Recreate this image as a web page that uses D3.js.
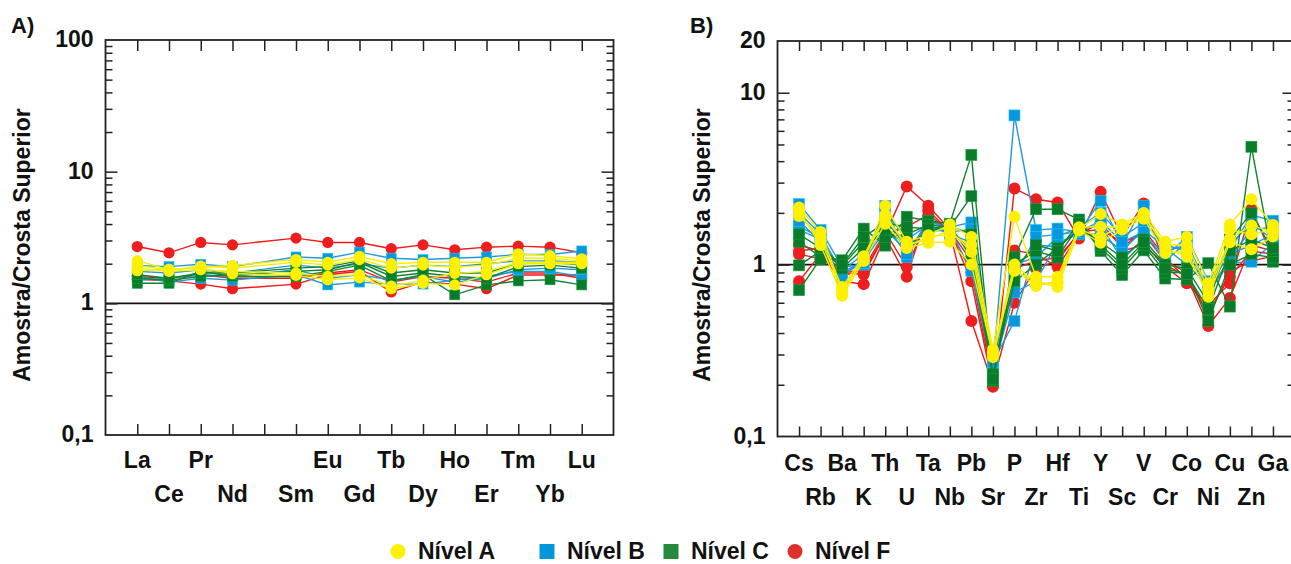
<!DOCTYPE html>
<html>
<head>
<meta charset="utf-8">
<script src="https://cdn.jsdelivr.net/npm/d3@7"></script>
<style>
  html, body { margin: 0; padding: 0; background: #fff; }
  svg { display: block; font-family: "Liberation Sans", Arial, sans-serif; font-weight: bold; }
</style>
</head>
<body>
<script>
// ---- Panel A: rare earth elements (Pm slot kept on the axis, not analysed) ----
const reeSlots = ["La","Ce","Pr","Nd","Pm","Sm","Eu","Gd","Tb","Dy","Ho","Er","Tm","Yb","Lu"];
const reeElements = ["La","Ce","Pr","Nd","Sm","Eu","Gd","Tb","Dy","Ho","Er","Tm","Yb","Lu"];

const reeNivelA = [
  [2.11, 1.80, 1.88, 1.94, 2.15, 2.05, 2.27, 2.00, 2.05, 2.05, 2.05, 2.38, 2.30, 2.18],
  [1.95, 1.78, 1.92, 1.85, 2.05, 1.95, 2.15, 1.85, 1.95, 1.88, 1.95, 2.20, 2.20, 2.10],
  [1.77, 1.82, 1.85, 1.68, 1.63, 1.51, 1.56, 1.29, 1.42, 1.38, 1.65, 2.00, 2.00, 2.00],
  [1.85, 1.75, 1.80, 1.75, 1.70, 1.60, 1.65, 1.35, 1.50, 1.69, 1.75, 2.05, 2.05, 2.05]
];
const reeNivelB = [
  [1.94, 1.90, 1.98, 1.90, 2.25, 2.20, 2.45, 2.20, 2.15, 2.20, 2.25, 2.35, 2.35, 2.50],
  [1.60, 1.45, 1.55, 1.50, 1.65, 1.38, 1.45, 1.40, 1.40, 1.50, 1.60, 1.75, 1.75, 1.60],
  [1.75, 1.70, 1.80, 1.70, 1.95, 1.85, 2.00, 1.85, 1.95, 1.90, 2.00, 2.10, 2.10, 2.05],
  [1.50, 1.55, 1.65, 1.60, 1.80, 1.55, 1.65, 1.50, 1.60, 1.45, 1.55, 1.80, 1.85, 1.80]
];
const reeNivelC = [
  [1.42, 1.42, 1.75, 1.60, 1.60, 1.75, 1.95, 1.48, 1.65, 1.16, 1.38, 1.48, 1.51, 1.38],
  [1.55, 1.50, 1.60, 1.65, 1.75, 1.80, 2.05, 1.60, 1.70, 1.60, 1.55, 1.90, 1.95, 1.85],
  [1.65, 1.55, 1.70, 1.70, 1.85, 1.90, 2.10, 1.70, 1.80, 1.70, 1.70, 2.00, 2.05, 1.95]
];
const reeNivelF = [
  [2.70, 2.42, 2.90, 2.78, 3.13, 2.90, 2.90, 2.60, 2.78, 2.55, 2.67, 2.72, 2.67, 2.42],
  [1.52, 1.48, 1.40, 1.29, 1.40, 1.65, 1.75, 1.22, 1.45, 1.40, 1.29, 1.64, 1.64, 1.64],
  [1.60, 1.55, 1.65, 1.55, 1.55, 1.70, 1.80, 1.45, 1.60, 1.55, 1.45, 1.70, 1.70, 1.55]
];
const reeYTicks = [0.1, 1, 10, 100];
const reeYLabels = ["0,1", "1", "10", "100"];

// ---- Panel B: multi-element spider diagram ----
const spiderElements = ["Cs","Rb","Ba","K","Th","U","Ta","Nb","Pb","Sr","P","Zr","Hf","Ti","Y","Sc","V","Cr","Co","Ni","Cu","Zn","Ga"];

const spNivelA = [
  [2.15, 1.55, 0.72, 1.07, 2.20, 1.36, 1.48, 1.71, 1.45, 0.32, 1.90, 0.85, 0.85, 1.62, 1.97, 1.71, 2.00, 1.36, 1.45, 0.78, 1.71, 2.40, 1.70],
  [1.92, 1.45, 0.68, 1.10, 1.88, 1.30, 1.40, 1.59, 1.19, 0.29, 0.94, 0.75, 0.80, 1.65, 1.66, 1.65, 1.95, 1.25, 1.11, 0.70, 1.41, 1.69, 1.55],
  [2.05, 1.30, 0.66, 1.05, 1.73, 1.25, 1.34, 1.36, 1.00, 0.30, 0.92, 0.80, 0.74, 1.58, 1.34, 1.60, 1.85, 1.17, 1.20, 0.65, 1.35, 1.23, 1.46],
  [2.00, 1.38, 0.74, 1.12, 1.95, 1.28, 1.45, 1.50, 1.30, 0.31, 1.00, 0.78, 0.78, 1.60, 1.45, 1.68, 1.90, 1.30, 1.30, 0.72, 1.60, 1.50, 1.60]
];
const spNivelB = [
  [2.25, 1.59, 0.97, 1.00, 2.20, 1.11, 1.76, 1.65, 1.76, 0.25, 7.38, 1.59, 1.62, 1.55, 2.35, 1.30, 2.20, 1.11, 1.45, 0.80, 1.21, 1.94, 1.80],
  [1.66, 1.45, 0.90, 1.05, 1.60, 1.20, 1.65, 1.55, 1.60, 0.27, 0.47, 1.30, 1.27, 1.60, 1.70, 1.07, 1.41, 1.20, 1.30, 0.70, 1.02, 1.04, 1.33],
  [1.60, 1.40, 0.92, 1.15, 1.80, 1.30, 1.55, 1.60, 0.92, 0.24, 0.69, 0.80, 1.35, 1.50, 1.50, 1.20, 1.60, 1.25, 1.00, 0.75, 1.15, 1.30, 1.50],
  [2.00, 1.50, 0.88, 1.02, 2.05, 1.40, 1.70, 1.50, 1.35, 0.26, 1.00, 1.10, 1.45, 1.65, 2.00, 1.45, 1.75, 1.30, 1.20, 0.68, 1.10, 1.60, 1.65],
  [1.80, 1.35, 0.85, 1.08, 1.70, 1.15, 1.80, 1.62, 1.20, 0.235, 0.85, 1.45, 1.50, 1.55, 1.80, 1.35, 1.55, 1.05, 1.35, 0.72, 1.30, 1.75, 1.40]
];
const spNivelC = [
  [1.36, 1.11, 1.06, 1.62, 1.29, 1.90, 1.80, 1.73, 4.35, 0.21, 1.11, 2.10, 2.10, 1.83, 1.20, 0.87, 1.21, 0.83, 0.82, 1.02, 0.57, 4.85, 1.04],
  [0.99, 1.20, 0.98, 1.36, 1.45, 1.50, 1.70, 1.65, 2.50, 0.22, 1.00, 1.20, 1.10, 1.70, 1.25, 0.95, 1.30, 0.90, 0.90, 0.47, 1.00, 1.15, 1.10],
  [0.71, 1.08, 0.95, 1.25, 1.60, 1.30, 1.55, 1.70, 1.10, 0.23, 0.80, 1.00, 1.25, 1.62, 1.35, 1.10, 1.40, 1.00, 0.95, 0.60, 1.40, 2.00, 1.20],
  [1.50, 1.25, 1.00, 1.45, 1.75, 1.65, 1.62, 1.68, 1.50, 0.215, 0.95, 1.30, 1.20, 1.75, 1.30, 1.00, 1.35, 0.95, 0.88, 0.55, 1.20, 1.40, 1.25]
];
const spNivelF = [
  [1.15, 1.08, 0.92, 0.91, 1.50, 2.85, 2.20, 1.60, 0.80, 0.195, 2.77, 2.40, 2.30, 1.42, 2.65, 1.45, 2.27, 0.97, 0.78, 0.58, 0.78, 2.10, 1.10],
  [0.80, 1.15, 0.80, 0.77, 1.45, 0.85, 2.07, 1.55, 0.47, 0.20, 1.21, 1.15, 0.97, 1.50, 1.50, 1.20, 1.30, 1.00, 0.85, 0.44, 0.64, 1.30, 1.20],
  [1.30, 1.20, 0.85, 0.95, 1.55, 0.97, 1.85, 1.60, 0.90, 0.205, 0.60, 0.95, 1.05, 1.55, 1.60, 1.35, 1.50, 1.05, 0.90, 0.50, 0.91, 1.05, 1.12],
  [1.20, 1.25, 0.90, 0.88, 1.50, 1.66, 1.95, 1.58, 1.05, 0.215, 0.95, 1.05, 1.10, 1.50, 1.75, 1.25, 1.60, 1.10, 0.82, 0.53, 0.85, 1.20, 1.15]
];
const spYTicks = [0.1, 1, 10, 20];
const spYLabels = ["0,1", "1", "10", "20"];

// ---- Levels (legend order) ----
const levelNames = ["Nível A", "Nível B", "Nível C", "Nível F"];
const levelShapes = ["circle", "square", "square", "circle"];
const levelFill = ["#FFF000", "#0A96DC", "#0B7A2A", "#EE1E1E"];
const levelLine = ["#F5EE00", "#2299DD", "#11822E", "#F01818"];
const legendFill = ["#FFF000", "#0096DC", "#268A3E", "#DF3029"];

const W = 1291, H = 564;
const svg = d3.select("body").append("svg").attr("width", W).attr("height", H);

function minorTicks(lo, hi) {
  const out = [];
  for (let e = Math.floor(Math.log10(lo)); e <= Math.ceil(Math.log10(hi)); e++) {
    for (let m = 2; m <= 9; m++) {
      const v = m * Math.pow(10, e);
      if (v > lo * 1.0001 && v < hi * 0.9999) out.push(v);
    }
  }
  return out;
}

function drawPanel(cfg) {
  const g = svg.append("g");
  const x = d3.scalePoint().domain(cfg.slots).range([cfg.left, cfg.right]).padding(1);
  const y = d3.scaleLog().domain(cfg.yDomain).range([cfg.bottom, cfg.top]);

  // reference line at 1
  g.append("line")
    .attr("x1", cfg.left).attr("x2", cfg.right)
    .attr("y1", y(1)).attr("y2", y(1))
    .attr("stroke", "#111").attr("stroke-width", 1.6);

  // series (drawn F, B, C, A so yellow ends on top)
  const order = [3, 1, 2, 0];
  const line = d3.line().x(d => x(d.el)).y(d => y(d.v));
  order.forEach(li => {
    cfg.levels[li].forEach(sample => {
      const pts = cfg.elements.map((el, i) => ({ el, v: sample[i] }));
      const sg = g.append("g");
      sg.append("path").datum(pts)
        .attr("d", line).attr("fill", "none")
        .attr("stroke", levelLine[li]).attr("stroke-width", 1.4);
      if (levelShapes[li] === "circle") {
        sg.selectAll("circle").data(pts).join("circle")
          .attr("cx", d => x(d.el)).attr("cy", d => y(d.v))
          .attr("r", cfg.mr).attr("fill", levelFill[li]);
      } else {
        const s = cfg.ms;
        sg.selectAll("rect").data(pts).join("rect")
          .attr("x", d => x(d.el) - s / 2).attr("y", d => y(d.v) - s / 2)
          .attr("width", s).attr("height", s).attr("fill", levelFill[li])
          .attr("stroke", d3.color(levelFill[li]).brighter(0.9)).attr("stroke-width", 0.6);
      }
    });
  });

  // y axes: major and minor ticks, inward on both sides
  const tickStyle = sel => {
    sel.select(".domain").remove();
    sel.selectAll("line").attr("stroke", "#222").attr("stroke-width", 1.5);
  };
  const majors = cfg.yTicks.filter(v => v > cfg.yDomain[0] && v < cfg.yDomain[1]);
  const minors = minorTicks(cfg.yDomain[0], cfg.yDomain[1]);
  [[d3.axisRight, cfg.left], [d3.axisLeft, cfg.right]].forEach(([ax, xp]) => {
    g.append("g").attr("transform", `translate(${xp},0)`)
      .call(ax(y).tickValues(majors).tickSize(12).tickFormat(""))
      .call(tickStyle);
    g.append("g").attr("transform", `translate(${xp},0)`)
      .call(ax(y).tickValues(minors).tickSize(7).tickFormat(""))
      .call(tickStyle);
  });

  // x ticks, inward top and bottom
  g.append("g").attr("transform", `translate(0,${cfg.bottom})`)
    .call(d3.axisTop(x).tickSize(cfg.xt).tickFormat("")).call(tickStyle);
  g.append("g").attr("transform", `translate(0,${cfg.top})`)
    .call(d3.axisBottom(x).tickSize(cfg.xt).tickFormat("")).call(tickStyle);

  // frame
  g.append("rect")
    .attr("x", cfg.left).attr("y", cfg.top)
    .attr("width", cfg.right - cfg.left).attr("height", cfg.bottom - cfg.top)
    .attr("fill", "none").attr("stroke", "#222").attr("stroke-width", 1.8);

  // y tick labels
  g.selectAll(".ylab").data(cfg.yTicks).join("text")
    .attr("x", cfg.left - 12).attr("y", d => y(d) + 7)
    .attr("text-anchor", "end").attr("font-size", 23).attr("fill", "#111")
    .text((d, i) => cfg.yLabels[i]);

  // x category labels, staggered in two rows
  g.selectAll(".xlab").data(cfg.slots).join("text")
    .attr("x", d => x(d))
    .attr("y", (d, i) => i % 2 === 0 ? cfg.row1 : cfg.row2)
    .attr("text-anchor", "middle").attr("font-size", 23).attr("fill", "#111")
    .text(d => cfg.elements.includes(d) ? d : "");

  // axis title
  g.append("text")
    .attr("transform", `translate(${cfg.titleX},${cfg.titleY}) rotate(-90)`)
    .attr("text-anchor", "middle").attr("font-size", 23).attr("fill", "#111")
    .text("Amostra/Crosta Superior");

  // panel letter
  g.append("text").attr("x", cfg.tagX).attr("y", 33)
    .attr("font-size", 22).attr("fill", "#111").text(cfg.tag);
}

drawPanel({
  tag: "A)", tagX: 11,
  slots: reeSlots, elements: reeElements,
  levels: [reeNivelA, reeNivelB, reeNivelC, reeNivelF],
  left: 105.5, right: 613.5, top: 40, bottom: 435,
  yDomain: [0.1, 100], yTicks: reeYTicks, yLabels: reeYLabels,
  mr: 5.6, ms: 10, xt: 11,
  row1: 468, row2: 502,
  titleX: 30, titleY: 245
});

drawPanel({
  tag: "B)", tagX: 690,
  slots: spiderElements, elements: spiderElements,
  levels: [spNivelA, spNivelB, spNivelC, spNivelF],
  left: 777.5, right: 1294.5, top: 41, bottom: 436.5,
  yDomain: [0.1, 20], yTicks: spYTicks, yLabels: spYLabels,
  mr: 6, ms: 11, xt: 10,
  row1: 471, row2: 505,
  titleX: 710, titleY: 245
});

// legend
const legendX = [398, 547, 671, 795];
const lg = svg.append("g");
levelNames.forEach((name, i) => {
  const cx = legendX[i], cy = 551.5;
  if (levelShapes[i] === "circle") {
    lg.append("circle").attr("cx", cx).attr("cy", cy).attr("r", 7.5).attr("fill", legendFill[i]);
  } else {
    lg.append("rect").attr("x", cx - 7.5).attr("y", cy - 7.5).attr("width", 15).attr("height", 15).attr("fill", legendFill[i]);
  }
  lg.append("text").attr("x", cx + 20).attr("y", 559)
    .attr("font-size", 23).attr("fill", "#111").text(name);
});
</script>
</body>
</html>
